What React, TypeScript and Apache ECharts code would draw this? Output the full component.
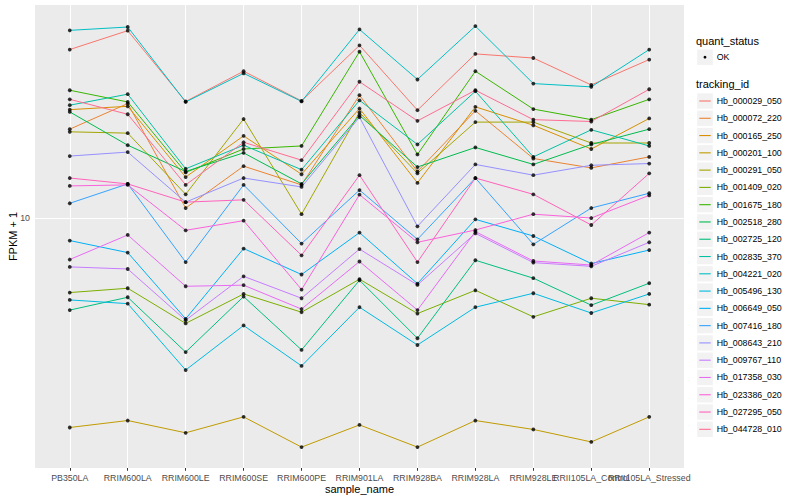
import React, { useEffect, useRef } from "react";
import * as echarts from "echarts";

const categories = [
  "PB350LA", "RRIM600LA", "RRIM600LE", "RRIM600SE", "RRIM600PE", "RRIM901LA",
  "RRIM928BA", "RRIM928LA", "RRIM928LE", "RRII105LA_Control", "RRII105LA_Stressed",
];

const trackingIds = [
  "Hb_000029_050", "Hb_000072_220", "Hb_000165_250", "Hb_000201_100", "Hb_000291_050",
  "Hb_001409_020", "Hb_001675_180", "Hb_002518_280", "Hb_002725_120", "Hb_002835_370",
  "Hb_004221_020", "Hb_005496_130", "Hb_006649_050", "Hb_007416_180", "Hb_008643_210",
  "Hb_009767_110", "Hb_017358_030", "Hb_023386_020", "Hb_027295_050", "Hb_044728_010",
];

const trackingColors = [
  "#F8766D", "#EA8331", "#D89000", "#C09B00", "#A3A500",
  "#7CAE00", "#39B600", "#00BB4E", "#00BF7D", "#00C1A3",
  "#00BFC4", "#00BAE0", "#00B0F6", "#35A2FF", "#9590FF",
  "#C77CFF", "#E76BF3", "#FA62DB", "#FF62BC", "#FF6C91",
];

// FPKM + 1 per sample, in category order
const hb000029_050 = [36.5, 42.2, 24.5, 30.9, 24.6, 37.7, 22.9, 35.3, 34.2, 27.8, 33.8];
const hb000072_220 = [19.8, 24.1, 10.8, 14.9, 12.9, 25.7, 14.3, 22.8, 15.8, 14.7, 16.0];
const hb000165_250 = [23.0, 23.6, 13.7, 18.8, 14.0, 23.2, 13.1, 23.5, 20.4, 17.0, 21.5];
const hb000201_100 = [2.0, 2.11, 1.92, 2.17, 1.72, 2.04, 1.72, 2.11, 1.97, 1.79, 2.17];
const hb000291_050 = [19.4, 19.2, 12.0, 21.4, 10.3, 22.5, 14.1, 20.9, 20.9, 17.8, 17.8];
const hb001409_020 = [5.64, 5.83, 4.45, 5.58, 4.85, 6.25, 4.8, 5.74, 4.68, 5.4, 5.14];
const hb001675_180 = [26.7, 24.4, 14.2, 17.0, 17.4, 35.9, 16.3, 30.9, 23.1, 21.3, 24.9];
const hb002518_280 = [22.6, 17.5, 14.3, 16.5, 13.0, 22.0, 14.8, 17.2, 15.1, 17.6, 19.8];
const hb002725_120 = [4.93, 5.44, 3.57, 5.47, 3.63, 6.2, 3.97, 7.23, 6.3, 5.12, 6.06];
const hb002835_370 = [23.8, 25.9, 14.6, 17.5, 14.5, 24.7, 17.6, 26.5, 16.0, 19.7, 17.4];
const hb004221_020 = [42.3, 43.4, 24.4, 30.4, 24.5, 42.6, 29.0, 43.7, 28.1, 27.4, 36.5];
const hb005496_130 = [5.33, 5.18, 3.11, 4.38, 3.21, 5.04, 3.77, 5.04, 5.61, 4.82, 5.58];
const hb006649_050 = [8.41, 7.67, 4.61, 7.91, 6.48, 8.94, 6.04, 9.9, 8.71, 7.05, 7.82];
const hb007416_180 = [11.2, 13.0, 7.13, 12.9, 8.22, 12.4, 8.49, 13.6, 8.17, 10.8, 12.1];
const hb008643_210 = [16.1, 16.6, 11.3, 13.6, 12.7, 21.7, 9.38, 15.1, 13.9, 15.0, 15.2];
const hb009767_110 = [6.87, 6.76, 4.56, 6.39, 5.4, 7.88, 5.98, 8.89, 7.1, 6.9, 8.3];
const hb017358_030 = [7.27, 8.78, 5.92, 5.97, 4.97, 7.16, 4.93, 9.01, 7.19, 6.97, 8.94];
const hb023386_020 = [12.8, 12.9, 9.1, 9.8, 5.77, 11.97, 8.3, 9.12, 10.3, 10.0, 11.9];
const hb027295_050 = [13.6, 13.0, 11.3, 11.5, 7.51, 13.9, 7.13, 13.6, 12.0, 9.48, 14.1];
const hb044728_010 = [24.9, 22.2, 12.9, 17.9, 15.6, 28.5, 21.1, 26.7, 21.3, 21.0, 26.9];

const seriesValues = [
  hb000029_050, hb000072_220, hb000165_250, hb000201_100, hb000291_050,
  hb001409_020, hb001675_180, hb002518_280, hb002725_120, hb002835_370,
  hb004221_020, hb005496_130, hb006649_050, hb007416_180, hb008643_210,
  hb009767_110, hb017358_030, hb023386_020, hb027295_050, hb044728_010,
];

const yTickValues = [10];
const yMin = 1.465;
const yMax = 51.4;
const quantStatus = ["OK"];

const FONT = "'Liberation Sans', Arial, Helvetica, sans-serif";

export default function App() {
  const ref = useRef<HTMLDivElement>(null);

  useEffect(() => {
    if (!ref.current) return;
    const chart = echarts.init(ref.current, undefined, { renderer: "svg" });
    const xTicks = categories.map((_, i) => i);
    // labels split over two axes so ECharts never drops overlapping neighbours
    const evenTicks = xTicks.filter((i) => i % 2 === 0);
    const oddTicks = xTicks.filter((i) => i % 2 === 1);

    const lineSeries: any[] = trackingIds.map((name, k) => ({
      type: "line",
      name,
      data: seriesValues[k].map((v, i) => [i, v]),
      showSymbol: false,
      symbol: "none",
      lineStyle: { color: trackingColors[k], width: 1.0 },
      itemStyle: { color: trackingColors[k] },
      z: 2,
      silent: true,
    }));
    lineSeries[0].markLine = {
      silent: true,
      z: 1,
      symbol: "none",
      label: { show: false },
      lineStyle: { color: "#FFFFFF", width: 1.07, type: "solid" },
      data: [
        ...xTicks.map((i) => ({ xAxis: i })),
        ...yTickValues.map((v) => ({ yAxis: v })),
      ],
    };

    const points: number[][] = [];
    seriesValues.forEach((vals) => vals.forEach((v, i) => points.push([i, v])));

    const keyTop = 93.3;
    const pitch = 17.28;
    const graphics: any[] = [
      {
        type: "text", x: 13, y: 236.5, rotation: Math.PI / 2,
        style: { text: "FPKM + 1", fontSize: 11, fontFamily: FONT, fill: "#000", align: "center", verticalAlign: "middle" },
      },
      {
        type: "text", x: 359.5, y: 488.5,
        style: { text: "sample_name", fontSize: 11, fontFamily: FONT, fill: "#000", align: "center", verticalAlign: "middle" },
      },
      {
        type: "text", x: 696, y: 40.7,
        style: { text: "quant_status", fontSize: 11, fontFamily: FONT, fill: "#000", verticalAlign: "middle" },
      },
      ...quantStatus.flatMap((q, i) => [
        { type: "rect", shape: { x: 697.2, y: 49.5 + i * pitch, width: 15.6, height: 15.4 }, style: { fill: "#F2F2F2" } },
        { type: "circle", shape: { cx: 705, cy: 57.2 + i * pitch, r: 1.4 }, style: { fill: "#000" } },
        { type: "text", x: 716.7, y: 57.2 + i * pitch, style: { text: q, fontSize: 8.8, fontFamily: FONT, fill: "#000", verticalAlign: "middle" } },
      ]),
      {
        type: "text", x: 696, y: 84,
        style: { text: "tracking_id", fontSize: 11, fontFamily: FONT, fill: "#000", verticalAlign: "middle" },
      },
      ...trackingIds.flatMap((name, i) => [
        { type: "rect", shape: { x: 697.2, y: keyTop + i * pitch, width: 15.6, height: 15.4 }, style: { fill: "#F2F2F2" } },
        {
          type: "line",
          shape: { x1: 699.3, y1: keyTop + 7.7 + i * pitch, x2: 710.7, y2: keyTop + 7.7 + i * pitch },
          style: { stroke: trackingColors[i], lineWidth: 1.1 },
        },
        {
          type: "text", x: 716.7, y: keyTop + 7.7 + i * pitch,
          style: { text: name, fontSize: 8.8, fontFamily: FONT, fill: "#000", verticalAlign: "middle" },
        },
      ]),
    ];

    const xLabelStyle = {
      show: true,
      formatter: (v: number) => categories[Math.round(v)] ?? "",
      fontSize: 8.8,
      color: "#4D4D4D",
      margin: 5,
      fontFamily: FONT,
      hideOverlap: false,
    };

    chart.setOption({
      animation: false,
      textStyle: { fontFamily: FONT },
      grid: { left: 35, right: 116, top: 5, bottom: 32, show: true, backgroundColor: "#EBEBEB", borderWidth: 0, containLabel: false },
      xAxis: [
        {
          type: "value",
          min: -0.6,
          max: 10.6,
          axisLine: { show: false },
          splitLine: { show: false },
          axisTick: { show: true, customValues: xTicks, length: 2.75, lineStyle: { color: "#333333", width: 1 } },
          axisLabel: { ...xLabelStyle, customValues: evenTicks },
        },
        {
          type: "value",
          position: "bottom",
          offset: 0,
          min: -0.6,
          max: 10.6,
          axisLine: { show: false },
          splitLine: { show: false },
          axisTick: { show: false },
          axisLabel: { ...xLabelStyle, customValues: oddTicks },
        },
      ],
      yAxis: {
        type: "log",
        logBase: 10,
        min: yMin,
        max: yMax,
        axisLine: { show: false },
        splitLine: { show: false },
        minorSplitLine: { show: false },
        axisTick: { show: true, customValues: yTickValues, length: 2.75, lineStyle: { color: "#333333", width: 1 } },
        axisLabel: {
          show: true,
          customValues: yTickValues,
          formatter: (v: number) => String(Math.round(v)),
          fontSize: 8.8,
          color: "#4D4D4D",
          margin: 5,
          fontFamily: FONT,
        },
      },
      series: [
        ...lineSeries,
        {
          type: "scatter",
          data: points,
          symbol: "circle",
          symbolSize: 3.8,
          itemStyle: { color: "#000000" },
          z: 3,
          silent: true,
        },
      ],
      graphic: graphics,
    });

    return () => chart.dispose();
  }, []);

  return <div ref={ref} style={{ position: "absolute", left: 0, top: 0, width: 800, height: 500 }} />;
}
